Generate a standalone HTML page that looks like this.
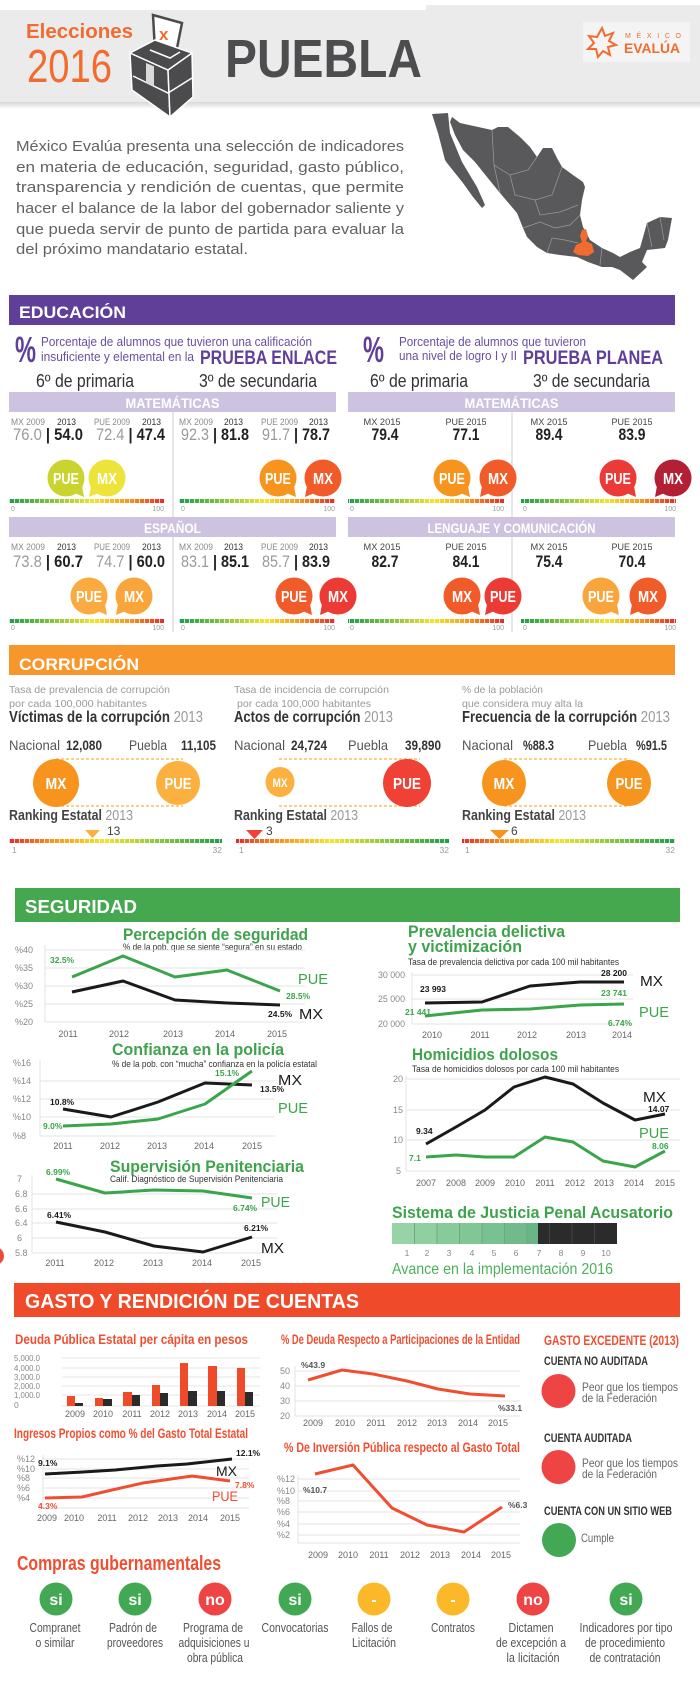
<!DOCTYPE html>
<html><head><meta charset="utf-8"><style>html,body{margin:0;padding:0;background:#fff;}svg{display:block}</style></head><body>
<svg xmlns="http://www.w3.org/2000/svg" width="700" height="1694" viewBox="0 0 700 1694" font-family="'Liberation Sans', Arial, sans-serif">
<defs>
<linearGradient id="gEdu" x1="0" x2="1" y1="0" y2="0"><stop offset="0" stop-color="#1e9e4a"/><stop offset=".3" stop-color="#8cc63f"/><stop offset=".55" stop-color="#f3e52c"/><stop offset=".78" stop-color="#f7941d"/><stop offset="1" stop-color="#e52a2a"/></linearGradient>
<linearGradient id="gRank" x1="0" x2="1" y1="0" y2="0"><stop offset="0" stop-color="#e52a2a"/><stop offset=".2" stop-color="#f7941d"/><stop offset=".45" stop-color="#f3e52c"/><stop offset=".7" stop-color="#8cc63f"/><stop offset="1" stop-color="#1e9e4a"/></linearGradient>
<linearGradient id="gSh" x1="0" x2="0" y1="0" y2="1"><stop offset="0" stop-color="#d6d6d6"/><stop offset="1" stop-color="#ffffff"/></linearGradient>
<pattern id="tk" width="5" height="10" patternUnits="userSpaceOnUse"><rect x="4" y="0" width="1" height="10" fill="#fff" opacity=".75"/></pattern>
</defs>

<!-- HEADER -->
<rect x="0" y="10" width="700" height="92" fill="#ebebeb"/>
<rect x="426" y="5" width="274" height="6" fill="#ebebeb"/>
<rect x="0" y="102" width="700" height="7" fill="url(#gSh)"/>
<text x="26" y="38" font-size="20" font-weight="bold" fill="#f26b2f" textLength="107" lengthAdjust="spacingAndGlyphs">Elecciones</text>
<text x="27" y="82" font-size="46" fill="#f26b2f" textLength="85" lengthAdjust="spacingAndGlyphs">2016</text>
<!-- ballot box -->
<polygon points="153,15 182,23 175,58 155,51" fill="#fff" stroke="#4b4b4d" stroke-width="2.5"/>
<text x="159" y="40" font-size="17" font-weight="bold" fill="#f26b2f">x</text>
<polygon points="130,53 168,70 170,117 132,90" fill="#4b4b4d" stroke="#fff" stroke-width="1.5"/>
<polygon points="168,70 192,53 193,97 170,117" fill="#4b4b4d" stroke="#fff" stroke-width="1.5"/>
<polygon points="130,53 155,40 192,53 168,70" fill="#4b4b4d" stroke="#fff" stroke-width="1.5"/>
<polyline points="150,50 170,58 180,52" fill="none" stroke="#fff" stroke-width="1.5"/>
<polyline points="133,76 168,93 192,78" fill="none" stroke="#fff" stroke-width="1.5"/>
<rect x="146" y="62" width="8" height="20" fill="#d9d9d9" transform="skewY(22) translate(0,-58)"/>
<text x="225" y="77" font-size="54" font-weight="bold" fill="#4d4d4f" textLength="197" lengthAdjust="spacingAndGlyphs">PUEBLA</text>
<!-- logo -->
<rect x="583" y="22" width="107" height="40" fill="#f4f4f4"/>
<polygon points="602,28 605,36 613,33 609,41 616,45 608,47 610,55 603,51 598,57 596,49 588,49 594,43 589,36 597,37" fill="none" stroke="#f26b2f" stroke-width="2"/>
<text x="625" y="38" font-size="7" fill="#f26b2f" textLength="56" lengthAdjust="spacing">MÉXICO</text>
<text x="624" y="53" font-size="14" font-weight="bold" fill="#f26b2f" textLength="56" lengthAdjust="spacingAndGlyphs">EVALÚA</text>

<!-- INTRO -->
<g font-size="15" fill="#626264">
<text x="16" y="151" textLength="388" lengthAdjust="spacingAndGlyphs">México Evalúa presenta una selección de indicadores</text>
<text x="16" y="172" textLength="388" lengthAdjust="spacingAndGlyphs">en materia de educación, seguridad, gasto público,</text>
<text x="16" y="192" textLength="388" lengthAdjust="spacingAndGlyphs">transparencia y rendición de cuentas, que permite</text>
<text x="16" y="213" textLength="388" lengthAdjust="spacingAndGlyphs">hacer el balance de la labor del gobernador saliente y</text>
<text x="16" y="234" textLength="388" lengthAdjust="spacingAndGlyphs">que pueda servir de punto de partida para evaluar la</text>
<text x="16" y="254" textLength="232" lengthAdjust="spacingAndGlyphs">del próximo mandatario estatal.</text>
</g>
<!-- MAP -->
<polygon points="432,114 448,113 450,133 462,162 477,187 485,205 482,208 473,197 463,183 447,163 445,160 438,133" fill="#59595b"/>
<polygon points="452,117 460,123 492,130 498,127 508,127 520,137 530,147 537,157 543,148 552,148 557,158 562,167 573,175 583,182 585,187 582,200 580,215 583,227 590,240 602,248 613,253 620,257 630,252 640,248 647,223 660,217 672,218 668,240 665,248 647,250 642,262 647,267 633,280 620,270 612,267 602,267 588,262 577,257 560,255 547,253 537,247 527,237 523,228 517,213 500,193 487,177 475,162 463,150 455,135 450,122" fill="#59595b"/>
<g fill="none" stroke="#9a9a9c" stroke-width=".7">
<polyline points="492,130 494,165 510,175 528,170 537,157"/>
<polyline points="494,165 500,193"/>
<polyline points="510,175 515,195 535,200 552,195 562,167"/>
<polyline points="535,200 540,215 560,212 578,205"/>
<polyline points="523,228 540,222 555,228 570,225 580,215"/>
<polyline points="547,253 552,238 565,240 578,243"/>
<polyline points="602,248 600,265"/>
<polyline points="647,223 652,247"/>
<polyline points="660,217 664,240"/>
</g>
<polygon points="582,230 586,229 588,236 586,241 592,244 594,252 588,256 578,255 573,252 576,245 582,242 580,236" fill="#f26b2f"/>

<!-- EDUCACION -->
<rect x="9" y="295" width="666" height="30" fill="#5f3f98"/>
<text x="19" y="318" font-size="17" font-weight="bold" fill="#fff" textLength="107" lengthAdjust="spacingAndGlyphs">EDUCACIÓN</text>
<text x="15" y="362" font-size="36" font-weight="bold" fill="#5f3f98" textLength="21" lengthAdjust="spacingAndGlyphs">%</text>
<text x="41" y="346" font-size="12.5" fill="#6b4ea0" textLength="271" lengthAdjust="spacingAndGlyphs">Porcentaje de alumnos que tuvieron una calificación</text>
<text x="41" y="361" font-size="12.5" fill="#6b4ea0" textLength="153" lengthAdjust="spacingAndGlyphs">insuficiente y elemental en la</text>
<text x="200" y="364" font-size="19" font-weight="bold" fill="#5f3f98" textLength="137" lengthAdjust="spacingAndGlyphs">PRUEBA ENLACE</text>
<text x="363" y="362" font-size="36" font-weight="bold" fill="#5f3f98" textLength="21" lengthAdjust="spacingAndGlyphs">%</text>
<text x="399" y="346" font-size="12.5" fill="#6b4ea0" textLength="187" lengthAdjust="spacingAndGlyphs">Porcentaje de alumnos que tuvieron</text>
<text x="399" y="360" font-size="12.5" fill="#6b4ea0" textLength="118" lengthAdjust="spacingAndGlyphs">una nivel de logro I y II</text>
<text x="523" y="364" font-size="19" font-weight="bold" fill="#5f3f98" textLength="140" lengthAdjust="spacingAndGlyphs">PRUEBA PLANEA</text>
<g font-size="18" fill="#333">
<text x="36" y="387" textLength="98" lengthAdjust="spacingAndGlyphs">6º de primaria</text>
<text x="199" y="387" textLength="118" lengthAdjust="spacingAndGlyphs">3º de secundaria</text>
<text x="370" y="387" textLength="98" lengthAdjust="spacingAndGlyphs">6º de primaria</text>
<text x="533" y="387" textLength="117" lengthAdjust="spacingAndGlyphs">3º de secundaria</text>
</g>
<line x1="173" y1="405" x2="173" y2="632" stroke="#cfcfcf" stroke-width="1"/>
<line x1="512" y1="405" x2="512" y2="632" stroke="#cfcfcf" stroke-width="1"/>
<rect x="9" y="392" width="327" height="20" fill="#cdc3e1"/>
<rect x="348" y="392" width="327" height="20" fill="#cdc3e1"/>
<text x="172.5" y="408" font-size="14" font-weight="bold" fill="#fff" text-anchor="middle" textLength="94" lengthAdjust="spacingAndGlyphs">MATEMÁTICAS</text>
<text x="511.5" y="408" font-size="14" font-weight="bold" fill="#fff" text-anchor="middle" textLength="94" lengthAdjust="spacingAndGlyphs">MATEMÁTICAS</text>
<!-- row1 labels -->
<g font-size="9.5" fill="#8a8a8a">
<text x="11" y="425" textLength="34" lengthAdjust="spacingAndGlyphs">MX 2009</text>
<text x="57" y="425" fill="#333" textLength="19" lengthAdjust="spacingAndGlyphs">2013</text>
<text x="94" y="425" textLength="36" lengthAdjust="spacingAndGlyphs">PUE 2009</text>
<text x="142" y="425" fill="#333" textLength="19" lengthAdjust="spacingAndGlyphs">2013</text>
<text x="179" y="425" textLength="34" lengthAdjust="spacingAndGlyphs">MX 2009</text>
<text x="224" y="425" fill="#333" textLength="19" lengthAdjust="spacingAndGlyphs">2013</text>
<text x="261" y="425" textLength="37" lengthAdjust="spacingAndGlyphs">PUE 2009</text>
<text x="309" y="425" fill="#333" textLength="19" lengthAdjust="spacingAndGlyphs">2013</text>
<text x="382" y="425" fill="#444" text-anchor="middle" textLength="37" lengthAdjust="spacingAndGlyphs">MX 2015</text>
<text x="466" y="425" fill="#444" text-anchor="middle" textLength="41" lengthAdjust="spacingAndGlyphs">PUE 2015</text>
<text x="549" y="425" fill="#444" text-anchor="middle" textLength="37" lengthAdjust="spacingAndGlyphs">MX 2015</text>
<text x="632" y="425" fill="#444" text-anchor="middle" textLength="41" lengthAdjust="spacingAndGlyphs">PUE 2015</text>
</g>
<g font-size="17">
<text x="13" y="440" textLength="70" lengthAdjust="spacingAndGlyphs"><tspan fill="#9a9a9a">76.0 </tspan><tspan font-weight="bold" fill="#222">| 54.0</tspan></text>
<text x="96" y="440" textLength="69" lengthAdjust="spacingAndGlyphs"><tspan fill="#9a9a9a">72.4 </tspan><tspan font-weight="bold" fill="#222">| 47.4</tspan></text>
<text x="181" y="440" textLength="68" lengthAdjust="spacingAndGlyphs"><tspan fill="#9a9a9a">92.3 </tspan><tspan font-weight="bold" fill="#222">| 81.8</tspan></text>
<text x="262" y="440" textLength="68" lengthAdjust="spacingAndGlyphs"><tspan fill="#9a9a9a">91.7 </tspan><tspan font-weight="bold" fill="#222">| 78.7</tspan></text>
<g font-weight="bold" fill="#222" text-anchor="middle">
<text x="385" y="440" textLength="27" lengthAdjust="spacingAndGlyphs">79.4</text>
<text x="466" y="440" textLength="27" lengthAdjust="spacingAndGlyphs">77.1</text>
<text x="549" y="440" textLength="27" lengthAdjust="spacingAndGlyphs">89.4</text>
<text x="632" y="440" textLength="27" lengthAdjust="spacingAndGlyphs">83.9</text>
</g>
</g>
<!-- row1 bubbles -->
<g font-size="16" font-weight="bold" fill="#fff" text-anchor="middle">
<g fill="#c9d42e"><circle cx="66" cy="478" r="18.5"/><polygon points="72,492 82,486 84,497"/></g>
<g fill="#eee33a"><circle cx="107" cy="478" r="18.5"/><polygon points="101,492 91,486 89,497"/></g>
<text x="66" y="484" textLength="26" lengthAdjust="spacingAndGlyphs">PUE</text><text x="107" y="484" textLength="20" lengthAdjust="spacingAndGlyphs">MX</text>
<g fill="#f7941d"><circle cx="278" cy="478" r="18.5"/><polygon points="284,492 294,486 296,497"/></g>
<g fill="#f15a29"><circle cx="323" cy="478" r="18.5"/><polygon points="317,492 307,486 305,497"/></g>
<text x="278" y="484" textLength="26" lengthAdjust="spacingAndGlyphs">PUE</text><text x="323" y="484" textLength="20" lengthAdjust="spacingAndGlyphs">MX</text>
<g fill="#f7941d"><circle cx="452" cy="478" r="18.5"/><polygon points="458,492 468,486 470,497"/></g>
<g fill="#f15a29"><circle cx="498" cy="478" r="18.5"/><polygon points="492,492 482,486 480,497"/></g>
<text x="452" y="484" textLength="26" lengthAdjust="spacingAndGlyphs">PUE</text><text x="498" y="484" textLength="20" lengthAdjust="spacingAndGlyphs">MX</text>
<g fill="#ec3a38"><circle cx="618" cy="478" r="18.5"/><polygon points="624,492 634,486 636,497"/></g>
<g fill="#b31f35"><circle cx="673" cy="478" r="18.5"/><polygon points="667,492 657,486 655,497"/></g>
<text x="618" y="484" textLength="26" lengthAdjust="spacingAndGlyphs">PUE</text><text x="673" y="484" textLength="20" lengthAdjust="spacingAndGlyphs">MX</text>
</g>
<!-- scale bars row1 -->
<g>
<rect x="9" y="499" width="155" height="4" fill="url(#gEdu)"/><rect x="9" y="499" width="155" height="4" fill="url(#tk)"/>
<rect x="179" y="499" width="156" height="4" fill="url(#gEdu)"/><rect x="179" y="499" width="156" height="4" fill="url(#tk)"/>
<rect x="348" y="499" width="156" height="4" fill="url(#gEdu)"/><rect x="348" y="499" width="156" height="4" fill="url(#tk)"/>
<rect x="521" y="499" width="155" height="4" fill="url(#gEdu)"/><rect x="521" y="499" width="155" height="4" fill="url(#tk)"/>
</g>
<g font-size="7" fill="#999">
<text x="11" y="511">0</text><text x="164" y="511" text-anchor="end">100</text>
<text x="181" y="511">0</text><text x="335" y="511" text-anchor="end">100</text>
<text x="350" y="511">0</text><text x="504" y="511" text-anchor="end">100</text>
<text x="523" y="511">0</text><text x="676" y="511" text-anchor="end">100</text>
</g>
<!-- row2 -->
<rect x="9" y="517" width="327" height="20" fill="#cdc3e1"/>
<rect x="348" y="517" width="327" height="20" fill="#cdc3e1"/>
<text x="172.5" y="533" font-size="14" font-weight="bold" fill="#fff" text-anchor="middle" textLength="57" lengthAdjust="spacingAndGlyphs">ESPAÑOL</text>
<text x="511.5" y="533" font-size="14" font-weight="bold" fill="#fff" text-anchor="middle" textLength="168" lengthAdjust="spacingAndGlyphs">LENGUAJE Y COMUNICACIÓN</text>
<g font-size="9.5" fill="#8a8a8a">
<text x="11" y="550" textLength="34" lengthAdjust="spacingAndGlyphs">MX 2009</text>
<text x="57" y="550" fill="#333" textLength="19" lengthAdjust="spacingAndGlyphs">2013</text>
<text x="94" y="550" textLength="36" lengthAdjust="spacingAndGlyphs">PUE 2009</text>
<text x="142" y="550" fill="#333" textLength="19" lengthAdjust="spacingAndGlyphs">2013</text>
<text x="179" y="550" textLength="34" lengthAdjust="spacingAndGlyphs">MX 2009</text>
<text x="224" y="550" fill="#333" textLength="19" lengthAdjust="spacingAndGlyphs">2013</text>
<text x="261" y="550" textLength="37" lengthAdjust="spacingAndGlyphs">PUE 2009</text>
<text x="309" y="550" fill="#333" textLength="19" lengthAdjust="spacingAndGlyphs">2013</text>
<text x="382" y="550" fill="#444" text-anchor="middle" textLength="37" lengthAdjust="spacingAndGlyphs">MX 2015</text>
<text x="466" y="550" fill="#444" text-anchor="middle" textLength="41" lengthAdjust="spacingAndGlyphs">PUE 2015</text>
<text x="549" y="550" fill="#444" text-anchor="middle" textLength="37" lengthAdjust="spacingAndGlyphs">MX 2015</text>
<text x="632" y="550" fill="#444" text-anchor="middle" textLength="41" lengthAdjust="spacingAndGlyphs">PUE 2015</text>
</g>
<g font-size="17">
<text x="13" y="567" textLength="70" lengthAdjust="spacingAndGlyphs"><tspan fill="#9a9a9a">73.8 </tspan><tspan font-weight="bold" fill="#222">| 60.7</tspan></text>
<text x="96" y="567" textLength="69" lengthAdjust="spacingAndGlyphs"><tspan fill="#9a9a9a">74.7 </tspan><tspan font-weight="bold" fill="#222">| 60.0</tspan></text>
<text x="181" y="567" textLength="68" lengthAdjust="spacingAndGlyphs"><tspan fill="#9a9a9a">83.1 </tspan><tspan font-weight="bold" fill="#222">| 85.1</tspan></text>
<text x="262" y="567" textLength="68" lengthAdjust="spacingAndGlyphs"><tspan fill="#9a9a9a">85.7 </tspan><tspan font-weight="bold" fill="#222">| 83.9</tspan></text>
<g font-weight="bold" fill="#222" text-anchor="middle">
<text x="385" y="567" textLength="27" lengthAdjust="spacingAndGlyphs">82.7</text>
<text x="466" y="567" textLength="27" lengthAdjust="spacingAndGlyphs">84.1</text>
<text x="549" y="567" textLength="27" lengthAdjust="spacingAndGlyphs">75.4</text>
<text x="632" y="567" textLength="27" lengthAdjust="spacingAndGlyphs">70.4</text>
</g>
</g>
<g font-size="16" font-weight="bold" fill="#fff" text-anchor="middle">
<g fill="#fbaa3f"><circle cx="89" cy="596" r="18.5"/><polygon points="95,610 105,604 107,615"/></g>
<g fill="#f9a53c"><circle cx="134" cy="596" r="18.5"/><polygon points="128,610 118,604 116,615"/></g>
<text x="89" y="602" textLength="26" lengthAdjust="spacingAndGlyphs">PUE</text><text x="134" y="602" textLength="20" lengthAdjust="spacingAndGlyphs">MX</text>
<g fill="#f15a29"><circle cx="294" cy="596" r="18.5"/><polygon points="300,610 310,604 312,615"/></g>
<g fill="#ec3a35"><circle cx="338" cy="596" r="18.5"/><polygon points="332,610 322,604 320,615"/></g>
<text x="294" y="602" textLength="26" lengthAdjust="spacingAndGlyphs">PUE</text><text x="338" y="602" textLength="20" lengthAdjust="spacingAndGlyphs">MX</text>
<g fill="#f15a29"><circle cx="462" cy="596" r="18.5"/><polygon points="468,610 478,604 480,615"/></g>
<g fill="#ec3a35"><circle cx="503" cy="596" r="18.5"/><polygon points="497,610 487,604 485,615"/></g>
<text x="462" y="602" textLength="20" lengthAdjust="spacingAndGlyphs">MX</text><text x="503" y="602" textLength="26" lengthAdjust="spacingAndGlyphs">PUE</text>
<g fill="#f9a53c"><circle cx="601" cy="596" r="18.5"/><polygon points="607,610 617,604 619,615"/></g>
<g fill="#f15a29"><circle cx="648" cy="596" r="18.5"/><polygon points="642,610 632,604 630,615"/></g>
<text x="601" y="602" textLength="26" lengthAdjust="spacingAndGlyphs">PUE</text><text x="648" y="602" textLength="20" lengthAdjust="spacingAndGlyphs">MX</text>
</g>
<g>
<rect x="9" y="619" width="155" height="4" fill="url(#gEdu)"/><rect x="9" y="619" width="155" height="4" fill="url(#tk)"/>
<rect x="179" y="619" width="156" height="4" fill="url(#gEdu)"/><rect x="179" y="619" width="156" height="4" fill="url(#tk)"/>
<rect x="348" y="619" width="156" height="4" fill="url(#gEdu)"/><rect x="348" y="619" width="156" height="4" fill="url(#tk)"/>
<rect x="521" y="619" width="155" height="4" fill="url(#gEdu)"/><rect x="521" y="619" width="155" height="4" fill="url(#tk)"/>
</g>
<g font-size="7" fill="#999">
<text x="11" y="630">0</text><text x="164" y="630" text-anchor="end">100</text>
<text x="181" y="630">0</text><text x="335" y="630" text-anchor="end">100</text>
<text x="350" y="630">0</text><text x="504" y="630" text-anchor="end">100</text>
<text x="523" y="630">0</text><text x="676" y="630" text-anchor="end">100</text>
</g>

<!-- CORRUPCION -->
<rect x="9" y="645" width="666" height="30" fill="#f7962b"/>
<text x="19" y="670" font-size="17" font-weight="bold" fill="#fff" textLength="120" lengthAdjust="spacingAndGlyphs">CORRUPCIÓN</text>
<g font-size="10.5" fill="#9a9a9a">
<text x="9" y="693" textLength="161" lengthAdjust="spacingAndGlyphs">Tasa de prevalencia de corrupción</text>
<text x="9" y="707" textLength="138" lengthAdjust="spacingAndGlyphs">por cada 100,000 habitantes</text>
<text x="234" y="693" textLength="155" lengthAdjust="spacingAndGlyphs">Tasa de incidencia de corrupción</text>
<text x="237" y="707" textLength="134" lengthAdjust="spacingAndGlyphs">por cada 100,000 habitantes</text>
<text x="462" y="693" textLength="81" lengthAdjust="spacingAndGlyphs">% de la población</text>
<text x="462" y="707" textLength="121" lengthAdjust="spacingAndGlyphs">que considera muy alta la</text>
</g>
<g font-size="16">
<text x="9" y="722" textLength="194" lengthAdjust="spacingAndGlyphs"><tspan font-weight="bold" fill="#333">Víctimas de la corrupción</tspan><tspan fill="#999"> 2013</tspan></text>
<text x="234" y="722" textLength="159" lengthAdjust="spacingAndGlyphs"><tspan font-weight="bold" fill="#333">Actos de corrupción</tspan><tspan fill="#999"> 2013</tspan></text>
<text x="462" y="722" textLength="208" lengthAdjust="spacingAndGlyphs"><tspan font-weight="bold" fill="#333">Frecuencia de la corrupción</tspan><tspan fill="#999"> 2013</tspan></text>
</g>
<g font-size="14" fill="#555">
<text x="9" y="750" textLength="51" lengthAdjust="spacingAndGlyphs">Nacional</text>
<text x="66" y="750" font-weight="bold" fill="#333" textLength="36" lengthAdjust="spacingAndGlyphs">12,080</text>
<text x="129" y="750" textLength="38" lengthAdjust="spacingAndGlyphs">Puebla</text>
<text x="181" y="750" font-weight="bold" fill="#333" textLength="35" lengthAdjust="spacingAndGlyphs">11,105</text>
<text x="234" y="750" textLength="51" lengthAdjust="spacingAndGlyphs">Nacional</text>
<text x="291" y="750" font-weight="bold" fill="#333" textLength="36" lengthAdjust="spacingAndGlyphs">24,724</text>
<text x="348" y="750" textLength="40" lengthAdjust="spacingAndGlyphs">Puebla</text>
<text x="405" y="750" font-weight="bold" fill="#333" textLength="36" lengthAdjust="spacingAndGlyphs">39,890</text>
<text x="462" y="750" textLength="51" lengthAdjust="spacingAndGlyphs">Nacional</text>
<text x="523" y="750" font-weight="bold" fill="#333" textLength="31" lengthAdjust="spacingAndGlyphs">%88.3</text>
<text x="588" y="750" textLength="39" lengthAdjust="spacingAndGlyphs">Puebla</text>
<text x="636" y="750" font-weight="bold" fill="#333" textLength="31" lengthAdjust="spacingAndGlyphs">%91.5</text>
</g>
<g stroke="#fbb040" stroke-width="1.2" stroke-dasharray="3 2">
<line x1="56" y1="759" x2="183" y2="759"/><line x1="56" y1="806" x2="183" y2="806"/>
<line x1="279" y1="759" x2="420" y2="759"/><line x1="279" y1="806" x2="420" y2="806"/>
<line x1="504" y1="759" x2="629" y2="759"/><line x1="504" y1="806" x2="629" y2="806"/>
</g>
<ellipse cx="56" cy="783" rx="23" ry="24" fill="#f7941d"/>
<ellipse cx="178" cy="783" rx="22" ry="22" fill="#fbb040"/>
<ellipse cx="280" cy="782" rx="14.5" ry="15" fill="#fbb040"/>
<ellipse cx="407" cy="783" rx="24" ry="24" fill="#ef4136"/>
<ellipse cx="504" cy="783" rx="22" ry="23" fill="#f7941d"/>
<ellipse cx="629" cy="783" rx="22" ry="23" fill="#f7941d"/>
<g font-size="16" font-weight="bold" fill="#fff" text-anchor="middle">
<text x="56" y="789" textLength="21" lengthAdjust="spacingAndGlyphs">MX</text>
<text x="178" y="789" textLength="27" lengthAdjust="spacingAndGlyphs">PUE</text>
<text x="280" y="787" font-size="12" textLength="15" lengthAdjust="spacingAndGlyphs">MX</text>
<text x="407" y="789" textLength="28" lengthAdjust="spacingAndGlyphs">PUE</text>
<text x="504" y="789" textLength="21" lengthAdjust="spacingAndGlyphs">MX</text>
<text x="629" y="789" textLength="27" lengthAdjust="spacingAndGlyphs">PUE</text>
</g>
<g font-size="15">
<text x="9" y="820" textLength="124" lengthAdjust="spacingAndGlyphs"><tspan font-weight="bold" fill="#444">Ranking Estatal</tspan><tspan fill="#999"> 2013</tspan></text>
<text x="234" y="820" textLength="124" lengthAdjust="spacingAndGlyphs"><tspan font-weight="bold" fill="#444">Ranking Estatal</tspan><tspan fill="#999"> 2013</tspan></text>
<text x="462" y="820" textLength="124" lengthAdjust="spacingAndGlyphs"><tspan font-weight="bold" fill="#444">Ranking Estatal</tspan><tspan fill="#999"> 2013</tspan></text>
</g>
<polygon points="85,830 100,830 92.5,838" fill="#fbb040"/>
<text x="107" y="835" font-size="12" fill="#444">13</text>
<polygon points="246,830 263,830 254.5,839" fill="#ef4136"/>
<text x="266" y="835" font-size="12" fill="#444">3</text>
<polygon points="490,830 509,830 499.5,839" fill="#f7941d"/>
<text x="511" y="835" font-size="12" fill="#444">6</text>
<rect x="9" y="839" width="213" height="4" fill="url(#gRank)"/><rect x="9" y="839" width="213" height="4" fill="url(#tk)"/>
<rect x="236" y="839" width="213" height="4" fill="url(#gRank)"/><rect x="236" y="839" width="213" height="4" fill="url(#tk)"/>
<rect x="462" y="839" width="213" height="4" fill="url(#gRank)"/><rect x="462" y="839" width="213" height="4" fill="url(#tk)"/>
<g font-size="8.5" fill="#999">
<text x="12" y="853">1</text><text x="222" y="853" text-anchor="end">32</text>
<text x="239" y="853">1</text><text x="449" y="853" text-anchor="end">32</text>
<text x="465" y="853">1</text><text x="675" y="853" text-anchor="end">32</text>
</g>

<!-- SEGURIDAD -->
<rect x="15" y="888" width="665" height="34" fill="#45a84e"/>
<text x="25" y="913" font-size="18" font-weight="bold" fill="#fff" textLength="112" lengthAdjust="spacingAndGlyphs">SEGURIDAD</text>
<circle cx="-5" cy="1256" r="9" fill="#e84c3d"/>
<!-- chart1 -->
<text x="123" y="940" font-size="17" font-weight="bold" fill="#3fa34d" textLength="185" lengthAdjust="spacingAndGlyphs">Percepción de seguridad</text>
<text x="123" y="950" font-size="9.5" fill="#333" textLength="179" lengthAdjust="spacingAndGlyphs">% de la pob. que se siente “segura” en su estado</text>
<g stroke="#e3e3e3" stroke-width="1">
<line x1="45" y1="950" x2="305" y2="950"/><line x1="45" y1="968" x2="305" y2="968"/><line x1="45" y1="986" x2="305" y2="986"/><line x1="45" y1="1004" x2="305" y2="1004"/><line x1="45" y1="1022" x2="305" y2="1022"/>
<line x1="45" y1="945" x2="45" y2="1022"/>
</g>
<g font-size="9" fill="#888">
<text x="15" y="953">%40</text><text x="15" y="971">%35</text><text x="15" y="989">%30</text><text x="15" y="1007">%25</text><text x="15" y="1025">%20</text>
</g>
<g font-size="9" fill="#666" text-anchor="middle">
<text x="68" y="1037">2011</text><text x="119" y="1037">2012</text><text x="173" y="1037">2013</text><text x="225" y="1037">2014</text><text x="277" y="1037">2015</text>
</g>
<polyline points="72,977 123,956 175,977 227,970 280,991" fill="none" stroke="#3aa54a" stroke-width="3" stroke-linejoin="round"/>
<polyline points="72,992 123,981 175,1000 227,1003 280,1005" fill="none" stroke="#1a1a1a" stroke-width="3" stroke-linejoin="round"/>
<g font-size="8.5" font-weight="bold">
<text x="50" y="963" fill="#3aa54a">32.5%</text>
<text x="286" y="999" fill="#3aa54a">28.5%</text>
<text x="268" y="1017" fill="#1a1a1a">24.5%</text>
</g>
<text x="298" y="984" font-size="15" fill="#3aa54a" textLength="30" lengthAdjust="spacingAndGlyphs">PUE</text>
<text x="299" y="1019" font-size="15" fill="#1a1a1a" textLength="24" lengthAdjust="spacingAndGlyphs">MX</text>
<!-- chart2 -->
<text x="112" y="1055" font-size="17" font-weight="bold" fill="#3fa34d" textLength="172" lengthAdjust="spacingAndGlyphs">Confianza en la policía</text>
<text x="112" y="1067" font-size="9.5" fill="#333" textLength="205" lengthAdjust="spacingAndGlyphs">% de la pob. con “mucha” confianza en la policía estatal</text>
<g stroke="#e3e3e3" stroke-width="1">
<line x1="40" y1="1081" x2="275" y2="1081"/><line x1="40" y1="1099" x2="275" y2="1099"/><line x1="40" y1="1117" x2="275" y2="1117"/><line x1="40" y1="1136" x2="275" y2="1136"/>
<line x1="40" y1="1060" x2="40" y2="1136"/>
</g>
<g font-size="9" fill="#888">
<text x="13" y="1066">%16</text><text x="13" y="1084">%14</text><text x="13" y="1102">%12</text><text x="13" y="1120">%10</text><text x="13" y="1139">%8</text>
</g>
<g font-size="9" fill="#666" text-anchor="middle">
<text x="63" y="1149">2011</text><text x="110" y="1149">2012</text><text x="157" y="1149">2013</text><text x="204" y="1149">2014</text><text x="252" y="1149">2015</text>
</g>
<polyline points="63,1109 111,1117 158,1102 205,1083 252,1085" fill="none" stroke="#1a1a1a" stroke-width="3" stroke-linejoin="round"/>
<polyline points="63,1126 111,1124 158,1119 205,1104 252,1071" fill="none" stroke="#3aa54a" stroke-width="3" stroke-linejoin="round"/>
<g font-size="8.5" font-weight="bold">
<text x="50" y="1105" fill="#1a1a1a">10.8%</text>
<text x="43" y="1129" fill="#3aa54a">9.0%</text>
<text x="215" y="1076" fill="#3aa54a">15.1%</text>
<text x="260" y="1092" fill="#1a1a1a">13.5%</text>
</g>
<text x="278" y="1085" font-size="15" fill="#1a1a1a" textLength="24" lengthAdjust="spacingAndGlyphs">MX</text>
<text x="278" y="1113" font-size="15" fill="#3aa54a" textLength="30" lengthAdjust="spacingAndGlyphs">PUE</text>
<!-- chart3 -->
<text x="110" y="1172" font-size="17" font-weight="bold" fill="#3fa34d" textLength="194" lengthAdjust="spacingAndGlyphs">Supervisión Penitenciaria</text>
<text x="110" y="1182" font-size="9.5" fill="#333" textLength="173" lengthAdjust="spacingAndGlyphs">Calif. Diagnóstico de Supervisión Penitenciaria</text>
<g stroke="#e3e3e3" stroke-width="1">
<line x1="32" y1="1194" x2="277" y2="1194"/><line x1="32" y1="1209" x2="277" y2="1209"/><line x1="32" y1="1223" x2="277" y2="1223"/><line x1="32" y1="1238" x2="277" y2="1238"/><line x1="32" y1="1253" x2="277" y2="1253"/>
<line x1="32" y1="1175" x2="32" y2="1253"/>
</g>
<g font-size="9" fill="#888">
<text x="17" y="1182">7</text><text x="15" y="1197">6.8</text><text x="15" y="1212">6.6</text><text x="15" y="1226">6.4</text><text x="17" y="1241">6</text><text x="15" y="1256">5.8</text>
</g>
<g font-size="9" fill="#666" text-anchor="middle">
<text x="55" y="1266">2011</text><text x="104" y="1266">2012</text><text x="153" y="1266">2013</text><text x="202" y="1266">2014</text><text x="251" y="1266">2015</text>
</g>
<polyline points="56,1179 105,1193 154,1190 203,1191 252,1198" fill="none" stroke="#3aa54a" stroke-width="3" stroke-linejoin="round"/>
<polyline points="56,1222 105,1232 154,1246 203,1252 252,1237" fill="none" stroke="#1a1a1a" stroke-width="3" stroke-linejoin="round"/>
<g font-size="8.5" font-weight="bold">
<text x="46" y="1175" fill="#3aa54a">6.99%</text>
<text x="233" y="1211" fill="#3aa54a">6.74%</text>
<text x="47" y="1218" fill="#1a1a1a">6.41%</text>
<text x="244" y="1231" fill="#1a1a1a">6.21%</text>
</g>
<text x="261" y="1207" font-size="15" fill="#3aa54a" textLength="29" lengthAdjust="spacingAndGlyphs">PUE</text>
<text x="261" y="1253" font-size="15" fill="#1a1a1a" textLength="23" lengthAdjust="spacingAndGlyphs">MX</text>
<!-- chart4 -->
<text x="408" y="937" font-size="17" font-weight="bold" fill="#3fa34d" textLength="157" lengthAdjust="spacingAndGlyphs">Prevalencia delictiva</text>
<text x="408" y="952" font-size="17" font-weight="bold" fill="#3fa34d" textLength="114" lengthAdjust="spacingAndGlyphs">y victimización</text>
<text x="408" y="965" font-size="9.5" fill="#333" textLength="211" lengthAdjust="spacingAndGlyphs">Tasa de prevalencia delictiva por cada 100 mil habitantes</text>
<g stroke="#e3e3e3" stroke-width="1">
<line x1="412" y1="975" x2="633" y2="975"/><line x1="412" y1="999" x2="633" y2="999"/><line x1="412" y1="1024" x2="633" y2="1024"/>
<line x1="412" y1="972" x2="412" y2="1024"/>
</g>
<g font-size="9" fill="#888">
<text x="378" y="978" textLength="27" lengthAdjust="spacingAndGlyphs">30 000</text><text x="378" y="1002" textLength="27" lengthAdjust="spacingAndGlyphs">25 000</text><text x="378" y="1027" textLength="27" lengthAdjust="spacingAndGlyphs">20 000</text>
</g>
<g font-size="9" fill="#666" text-anchor="middle">
<text x="432" y="1038">2010</text><text x="480" y="1038">2011</text><text x="527" y="1038">2012</text><text x="576" y="1038">2013</text><text x="622" y="1038">2014</text>
</g>
<polyline points="425,1003 482,1002 530,986 580,982 624,982" fill="none" stroke="#1a1a1a" stroke-width="3" stroke-linejoin="round"/>
<polyline points="425,1016 482,1010 530,1009 580,1005 624,1004" fill="none" stroke="#3aa54a" stroke-width="3" stroke-linejoin="round"/>
<g font-size="8.5" font-weight="bold">
<text x="420" y="992" fill="#1a1a1a">23 993</text>
<text x="601" y="976" fill="#1a1a1a">28 200</text>
<text x="601" y="996" fill="#3aa54a">23 741</text>
<text x="405" y="1015" fill="#3aa54a">21 441</text>
<text x="608" y="1026" fill="#3aa54a">6.74%</text>
</g>
<text x="640" y="986" font-size="15" fill="#1a1a1a" textLength="23" lengthAdjust="spacingAndGlyphs">MX</text>
<text x="639" y="1017" font-size="15" fill="#3aa54a" textLength="30" lengthAdjust="spacingAndGlyphs">PUE</text>
<!-- chart5 -->
<text x="412" y="1060" font-size="17" font-weight="bold" fill="#3fa34d" textLength="146" lengthAdjust="spacingAndGlyphs">Homicidios dolosos</text>
<text x="412" y="1072" font-size="9.5" fill="#333" textLength="207" lengthAdjust="spacingAndGlyphs">Tasa de homicidios dolosos por cada 100 mil habitantes</text>
<g stroke="#e3e3e3" stroke-width="1">
<line x1="406" y1="1079" x2="680" y2="1079"/><line x1="406" y1="1110" x2="680" y2="1110"/><line x1="406" y1="1140" x2="680" y2="1140"/><line x1="406" y1="1171" x2="680" y2="1171"/>
<line x1="406" y1="1076" x2="406" y2="1171"/>
</g>
<g font-size="9" fill="#888">
<text x="393" y="1082">20</text><text x="393" y="1113">15</text><text x="393" y="1143">10</text><text x="396" y="1174">5</text>
</g>
<g font-size="9" fill="#666" text-anchor="middle">
<text x="426" y="1186">2007</text><text x="456" y="1186">2008</text><text x="485" y="1186">2009</text><text x="515" y="1186">2010</text><text x="545" y="1186">2011</text><text x="575" y="1186">2012</text><text x="604" y="1186">2013</text><text x="634" y="1186">2014</text><text x="665" y="1186">2015</text>
</g>
<polyline points="426,1144 456,1127 485,1110 514,1087 545,1077 573,1084 603,1103 635,1120 665,1114" fill="none" stroke="#1a1a1a" stroke-width="3" stroke-linejoin="round"/>
<polyline points="426,1157 456,1155 485,1157 514,1157 545,1137 573,1142 603,1161 635,1167 665,1151" fill="none" stroke="#3aa54a" stroke-width="3" stroke-linejoin="round"/>
<g font-size="8.5" font-weight="bold">
<text x="416" y="1134" fill="#1a1a1a">9.34</text>
<text x="409" y="1161" fill="#3aa54a">7.1</text>
<text x="648" y="1112" fill="#1a1a1a">14.07</text>
<text x="652" y="1149" fill="#3aa54a">8.06</text>
</g>
<text x="643" y="1102" font-size="15" fill="#1a1a1a" textLength="23" lengthAdjust="spacingAndGlyphs">MX</text>
<text x="639" y="1138" font-size="15" fill="#3aa54a" textLength="30" lengthAdjust="spacingAndGlyphs">PUE</text>
<!-- sistema -->
<text x="392" y="1218" font-size="17" font-weight="bold" fill="#3fa34d" textLength="281" lengthAdjust="spacingAndGlyphs">Sistema de Justicia Penal Acusatorio</text>
<rect x="392" y="1223" width="23" height="21" fill="#97d3a7"/>
<rect x="414.5" y="1223" width="23" height="21" fill="#8fcfa0"/>
<rect x="437" y="1223" width="23" height="21" fill="#87cb9a"/>
<rect x="459.5" y="1223" width="23" height="21" fill="#80c795"/>
<rect x="482" y="1223" width="23" height="21" fill="#78c190"/>
<rect x="504.5" y="1223" width="23" height="21" fill="#71bb8a"/>
<rect x="527" y="1223" width="11" height="21" fill="#6ab585"/>
<rect x="538" y="1223" width="79" height="21" fill="#2b2b2b"/>
<g stroke-width="1">
<line x1="414.5" y1="1223" x2="414.5" y2="1244" stroke="#6fa882"/><line x1="437" y1="1223" x2="437" y2="1244" stroke="#6fa882"/><line x1="459.5" y1="1223" x2="459.5" y2="1244" stroke="#6fa882"/><line x1="482" y1="1223" x2="482" y2="1244" stroke="#6fa882"/><line x1="504.5" y1="1223" x2="504.5" y2="1244" stroke="#6fa882"/><line x1="527" y1="1223" x2="527" y2="1244" stroke="#6fa882"/>
<line x1="549.5" y1="1223" x2="549.5" y2="1244" stroke="#444"/><line x1="572" y1="1223" x2="572" y2="1244" stroke="#444"/><line x1="594.5" y1="1223" x2="594.5" y2="1244" stroke="#444"/>
</g>
<g font-size="8.5" fill="#888" text-anchor="middle">
<text x="407" y="1256">1</text><text x="427" y="1256">2</text><text x="449" y="1256">3</text><text x="472" y="1256">4</text><text x="494" y="1256">5</text><text x="516" y="1256">6</text><text x="539" y="1256">7</text><text x="561" y="1256">8</text><text x="583" y="1256">9</text><text x="606" y="1256">10</text>
</g>
<text x="392" y="1274" font-size="16" fill="#4cb05a" textLength="221" lengthAdjust="spacingAndGlyphs">Avance en la implementación 2016</text>

<!-- GASTO -->
<rect x="14" y="1283" width="666" height="34" fill="#ef4b2b"/>
<text x="25" y="1308" font-size="20" font-weight="bold" fill="#fff" textLength="334" lengthAdjust="spacingAndGlyphs">GASTO Y RENDICIÓN DE CUENTAS</text>
<!-- deuda bars -->
<text x="15" y="1344" font-size="14" font-weight="bold" fill="#f04e30" textLength="233" lengthAdjust="spacingAndGlyphs">Deuda Pública Estatal per cápita en pesos</text>
<g stroke="#e6e6e6" stroke-width="1">
<line x1="62" y1="1358" x2="260" y2="1358"/><line x1="62" y1="1368" x2="260" y2="1368"/><line x1="62" y1="1377" x2="260" y2="1377"/><line x1="62" y1="1386" x2="260" y2="1386"/><line x1="62" y1="1395" x2="260" y2="1395"/><line x1="62" y1="1406" x2="260" y2="1406"/>
</g>
<g font-size="8.5" fill="#888">
<text x="14" y="1361" textLength="26" lengthAdjust="spacingAndGlyphs">5,000.0</text><text x="14" y="1371" textLength="26" lengthAdjust="spacingAndGlyphs">4,000.0</text><text x="14" y="1380" textLength="26" lengthAdjust="spacingAndGlyphs">3,000.0</text><text x="14" y="1389" textLength="26" lengthAdjust="spacingAndGlyphs">2,000.0</text><text x="14" y="1398" textLength="26" lengthAdjust="spacingAndGlyphs">1,000.0</text><text x="14" y="1408">0</text>
</g>
<g fill="#ef4b2b">
<rect x="67" y="1396" width="8" height="10"/><rect x="95" y="1398" width="8" height="8"/><rect x="123" y="1392" width="9" height="14"/><rect x="152" y="1385" width="8" height="21"/><rect x="180" y="1363" width="8" height="43"/><rect x="208" y="1366" width="9" height="40"/><rect x="237" y="1368" width="8" height="38"/>
</g>
<g fill="#2b2b2b">
<rect x="75" y="1403" width="8" height="3"/><rect x="103" y="1399" width="9" height="7"/><rect x="132" y="1395" width="8" height="11"/><rect x="160" y="1393" width="8" height="13"/><rect x="188" y="1391" width="9" height="15"/><rect x="217" y="1391" width="8" height="15"/><rect x="245" y="1392" width="8" height="14"/>
</g>
<g font-size="9" fill="#666" text-anchor="middle">
<text x="75" y="1417">2009</text><text x="103" y="1417">2010</text><text x="132" y="1417">2011</text><text x="160" y="1417">2012</text><text x="188" y="1417">2013</text><text x="217" y="1417">2014</text><text x="245" y="1417">2015</text>
</g>
<!-- ingresos -->
<text x="14" y="1438" font-size="14" font-weight="bold" fill="#f04e30" textLength="234" lengthAdjust="spacingAndGlyphs">Ingresos Propios como % del Gasto Total Estatal</text>
<g stroke="#e3e3e3" stroke-width="1">
<line x1="43" y1="1459" x2="249" y2="1459"/><line x1="43" y1="1469" x2="249" y2="1469"/><line x1="43" y1="1478" x2="249" y2="1478"/><line x1="43" y1="1488" x2="249" y2="1488"/><line x1="43" y1="1498" x2="249" y2="1498"/><line x1="43" y1="1508" x2="249" y2="1508"/>
<line x1="43" y1="1455" x2="43" y2="1508"/>
</g>
<g font-size="9" fill="#888">
<text x="17" y="1462">%12</text><text x="17" y="1472">%10</text><text x="17" y="1481">%8</text><text x="17" y="1491">%6</text><text x="17" y="1501">%4</text>
</g>
<g font-size="9" fill="#666" text-anchor="middle">
<text x="47" y="1521">2009</text><text x="74" y="1521">2010</text><text x="107" y="1521">2011</text><text x="138" y="1521">2012</text><text x="168" y="1521">2013</text><text x="198" y="1521">2014</text><text x="230" y="1521">2015</text>
</g>
<polyline points="45,1474 83,1472 115,1470 157,1466 187,1464 232,1459" fill="none" stroke="#1a1a1a" stroke-width="3" stroke-linejoin="round"/>
<polyline points="45,1498 82,1497 112,1490 143,1483 192,1476 230,1481" fill="none" stroke="#f04e30" stroke-width="3" stroke-linejoin="round"/>
<g font-size="8.5" font-weight="bold">
<text x="38" y="1466" fill="#1a1a1a">9.1%</text>
<text x="236" y="1456" fill="#1a1a1a">12.1%</text>
<text x="235" y="1488" fill="#f04e30">7.8%</text>
<text x="38" y="1509" fill="#f04e30">4.3%</text>
</g>
<text x="216" y="1476" font-size="14" fill="#1a1a1a" textLength="21" lengthAdjust="spacingAndGlyphs">MX</text>
<text x="212" y="1501" font-size="14" fill="#f04e30" textLength="26" lengthAdjust="spacingAndGlyphs">PUE</text>
<!-- deuda % -->
<text x="281" y="1344" font-size="14" font-weight="bold" fill="#f04e30" textLength="239" lengthAdjust="spacingAndGlyphs">% De Deuda Respecto a Participaciones de la Entidad</text>
<g stroke="#e3e3e3" stroke-width="1">
<line x1="295" y1="1371" x2="520" y2="1371"/><line x1="295" y1="1386" x2="520" y2="1386"/><line x1="295" y1="1401" x2="520" y2="1401"/><line x1="295" y1="1416" x2="520" y2="1416"/>
<line x1="295" y1="1366" x2="295" y2="1416"/>
</g>
<g font-size="9" fill="#888">
<text x="280" y="1374">50</text><text x="280" y="1389">40</text><text x="280" y="1404">30</text><text x="280" y="1419">20</text>
</g>
<g font-size="9" fill="#666" text-anchor="middle">
<text x="313" y="1426">2009</text><text x="345" y="1426">2010</text><text x="376" y="1426">2011</text><text x="407" y="1426">2012</text><text x="437" y="1426">2013</text><text x="468" y="1426">2014</text><text x="498" y="1426">2015</text>
</g>
<polyline points="308,1380 342,1370 373,1374 407,1381 438,1389 470,1394 505,1396" fill="none" stroke="#f04e30" stroke-width="3" stroke-linejoin="round"/>
<g font-size="8.5" font-weight="bold" fill="#555">
<text x="301" y="1368">%43.9</text>
<text x="498" y="1411">%33.1</text>
</g>
<!-- inversion -->
<text x="284" y="1452" font-size="14" font-weight="bold" fill="#f04e30" textLength="236" lengthAdjust="spacingAndGlyphs">% De Inversión Pública respecto al Gasto Total</text>
<g stroke="#e3e3e3" stroke-width="1">
<line x1="298" y1="1479" x2="520" y2="1479"/><line x1="298" y1="1491" x2="520" y2="1491"/><line x1="298" y1="1501" x2="520" y2="1501"/><line x1="298" y1="1512" x2="520" y2="1512"/><line x1="298" y1="1524" x2="520" y2="1524"/><line x1="298" y1="1535" x2="520" y2="1535"/><line x1="298" y1="1543" x2="520" y2="1543"/>
<line x1="298" y1="1475" x2="298" y2="1543"/>
</g>
<g font-size="9" fill="#888">
<text x="277" y="1482">%12</text><text x="277" y="1494">%10</text><text x="277" y="1504">%8</text><text x="277" y="1515">%6</text><text x="277" y="1527">%4</text><text x="277" y="1538">%2</text>
</g>
<g font-size="9" fill="#666" text-anchor="middle">
<text x="318" y="1558">2009</text><text x="348" y="1558">2010</text><text x="379" y="1558">2011</text><text x="410" y="1558">2012</text><text x="440" y="1558">2013</text><text x="471" y="1558">2014</text><text x="501" y="1558">2015</text>
</g>
<polyline points="315,1474 353,1465 392,1508 427,1525 464,1532 502,1507" fill="none" stroke="#f04e30" stroke-width="3" stroke-linejoin="round"/>
<g font-size="8.5" font-weight="bold" fill="#555">
<text x="303" y="1493">%10.7</text>
<text x="508" y="1508">%6.3</text>
</g>
<!-- gasto excedente -->
<text x="544" y="1345" font-size="14" font-weight="bold" fill="#f04e30" textLength="135" lengthAdjust="spacingAndGlyphs">GASTO EXCEDENTE (2013)</text>
<text x="544" y="1365" font-size="11.5" font-weight="bold" fill="#333" textLength="104" lengthAdjust="spacingAndGlyphs">CUENTA NO AUDITADA</text>
<circle cx="558.5" cy="1391" r="17" fill="#ee4444"/>
<text x="582" y="1391" font-size="12" fill="#666" textLength="96" lengthAdjust="spacingAndGlyphs">Peor que los tiempos</text>
<text x="582" y="1402" font-size="12" fill="#666" textLength="75" lengthAdjust="spacingAndGlyphs">de la Federación</text>
<text x="544" y="1442" font-size="11.5" font-weight="bold" fill="#333" textLength="88" lengthAdjust="spacingAndGlyphs">CUENTA AUDITADA</text>
<circle cx="558.5" cy="1467" r="17" fill="#ee4444"/>
<text x="582" y="1467" font-size="12" fill="#666" textLength="96" lengthAdjust="spacingAndGlyphs">Peor que los tiempos</text>
<text x="582" y="1478" font-size="12" fill="#666" textLength="75" lengthAdjust="spacingAndGlyphs">de la Federación</text>
<text x="544" y="1515" font-size="11.5" font-weight="bold" fill="#333" textLength="128" lengthAdjust="spacingAndGlyphs">CUENTA CON UN SITIO WEB</text>
<circle cx="559" cy="1540" r="17" fill="#43a853"/>
<text x="581" y="1542" font-size="12" fill="#666" textLength="33" lengthAdjust="spacingAndGlyphs">Cumple</text>
<!-- compras -->
<text x="17" y="1570" font-size="20" font-weight="bold" fill="#f04e30" textLength="204" lengthAdjust="spacingAndGlyphs">Compras gubernamentales</text>
<circle cx="56" cy="1599" r="16.5" fill="#43a853"/>
<circle cx="135" cy="1599" r="16.5" fill="#43a853"/>
<circle cx="215" cy="1599" r="16.5" fill="#ee4444"/>
<circle cx="295" cy="1599" r="16.5" fill="#43a853"/>
<circle cx="374" cy="1599" r="16.5" fill="#fbb829"/>
<circle cx="453" cy="1599" r="16.5" fill="#fbb829"/>
<circle cx="533" cy="1599" r="16.5" fill="#ee4444"/>
<circle cx="626" cy="1599" r="16.5" fill="#43a853"/>
<g font-size="16" font-weight="bold" fill="#fff" text-anchor="middle">
<text x="56" y="1605">si</text><text x="135" y="1605">si</text><text x="215" y="1605">no</text><text x="295" y="1605">si</text><text x="374" y="1605">-</text><text x="453" y="1605">-</text><text x="533" y="1605">no</text><text x="626" y="1605">si</text>
</g>
<g font-size="12.5" fill="#555" text-anchor="middle">
<text x="55" y="1632" textLength="51" lengthAdjust="spacingAndGlyphs">Compranet</text>
<text x="55" y="1647" textLength="39" lengthAdjust="spacingAndGlyphs">o similar</text>
<text x="133" y="1632" textLength="48" lengthAdjust="spacingAndGlyphs">Padrón de</text>
<text x="135" y="1647" textLength="56" lengthAdjust="spacingAndGlyphs">proveedores</text>
<text x="213" y="1632" textLength="60" lengthAdjust="spacingAndGlyphs">Programa de</text>
<text x="214" y="1647" textLength="71" lengthAdjust="spacingAndGlyphs">adquisiciones u</text>
<text x="215" y="1662" textLength="56" lengthAdjust="spacingAndGlyphs">obra pública</text>
<text x="295" y="1632" textLength="67" lengthAdjust="spacingAndGlyphs">Convocatorias</text>
<text x="372" y="1632" textLength="41" lengthAdjust="spacingAndGlyphs">Fallos de</text>
<text x="374" y="1647" textLength="44" lengthAdjust="spacingAndGlyphs">Licitación</text>
<text x="453" y="1632" textLength="44" lengthAdjust="spacingAndGlyphs">Contratos</text>
<text x="531" y="1632" textLength="45" lengthAdjust="spacingAndGlyphs">Dictamen</text>
<text x="531" y="1647" textLength="70" lengthAdjust="spacingAndGlyphs">de excepción a</text>
<text x="533" y="1662" textLength="53" lengthAdjust="spacingAndGlyphs">la licitación</text>
<text x="626" y="1632" textLength="93" lengthAdjust="spacingAndGlyphs">Indicadores por tipo</text>
<text x="625" y="1647" textLength="80" lengthAdjust="spacingAndGlyphs">de procedimiento</text>
<text x="625" y="1662" textLength="71" lengthAdjust="spacingAndGlyphs">de contratación</text>
</g>
</svg>
</body></html>
